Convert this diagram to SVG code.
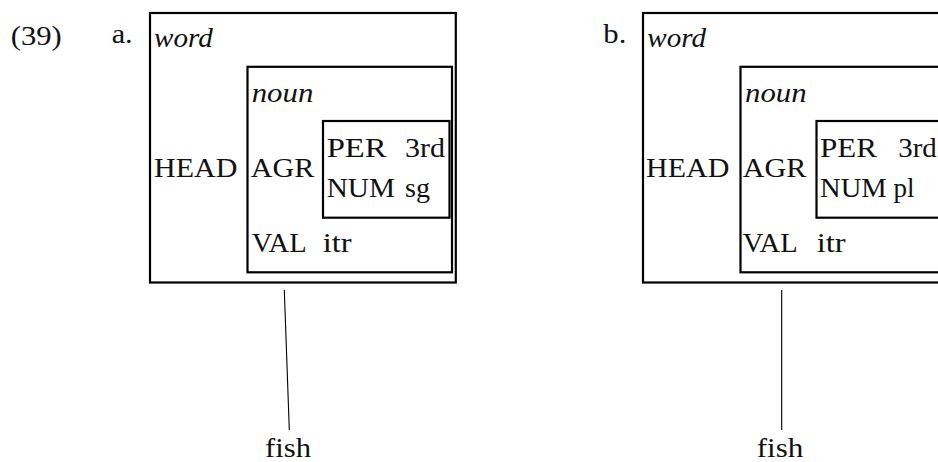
<svg xmlns="http://www.w3.org/2000/svg" width="938" height="462" viewBox="0 0 938 462">
<style>
  .box { fill: none; stroke: #000; stroke-width: 2.2; }
  .t { font-family: "Liberation Serif", "Times New Roman", serif; font-size: 27px; fill: #111; }
  .it { font-style: italic; }
  .edge { stroke: #000; stroke-width: 1.1; fill: none; }
</style>
<rect width="938" height="462" fill="#fff"/>
<g id="labels">
  <text class="t" x="10.7" y="44.5" textLength="51" lengthAdjust="spacingAndGlyphs">(39)</text>
  <text class="t" x="111.7" y="43" textLength="21" lengthAdjust="spacingAndGlyphs">a.</text>
  <text class="t" x="603.3" y="43" textLength="23" lengthAdjust="spacingAndGlyphs">b.</text>
</g>
<g id="word-a">
  <rect class="box" x="150" y="13" width="305.8" height="269.5"/>
  <text class="t it" x="154" y="46.7" textLength="58.7" lengthAdjust="spacingAndGlyphs">word</text>
  <text class="t" x="154" y="176.7" textLength="83.3" lengthAdjust="spacingAndGlyphs">HEAD</text>
</g>
<g id="noun-a">
  <rect class="box" x="247.5" y="66.8" width="204.5" height="205.5"/>
  <text class="t it" x="251.7" y="101.7" textLength="61.6" lengthAdjust="spacingAndGlyphs">noun</text>
  <text class="t" x="250.7" y="176.7" textLength="63.6" lengthAdjust="spacingAndGlyphs">AGR</text>
  <text class="t" x="251.7" y="251.7" textLength="55" lengthAdjust="spacingAndGlyphs">VAL</text>
  <text class="t" x="322.7" y="251.7" textLength="29" lengthAdjust="spacingAndGlyphs">itr</text>
</g>
<g id="agr-a">
  <rect class="box" x="323" y="121" width="126.5" height="96.7"/>
  <text class="t" x="326.7" y="156.7" textLength="60" lengthAdjust="spacingAndGlyphs">PER</text>
  <text class="t" x="405" y="156.7" textLength="40" lengthAdjust="spacingAndGlyphs">3rd</text>
  <text class="t" x="326.7" y="197.3" textLength="68.3" lengthAdjust="spacingAndGlyphs">NUM</text>
  <text class="t" x="405" y="197.3" textLength="25" lengthAdjust="spacingAndGlyphs">sg</text>
</g>
<g id="fish-a">
  <text class="t" x="265" y="456.7" textLength="46" lengthAdjust="spacingAndGlyphs">fish</text>
</g>
<g id="word-b">
  <rect class="box" x="643" y="13" width="305.8" height="269.5"/>
  <text class="t it" x="647.3" y="46.7" textLength="58.7" lengthAdjust="spacingAndGlyphs">word</text>
  <text class="t" x="646" y="176.7" textLength="83.3" lengthAdjust="spacingAndGlyphs">HEAD</text>
</g>
<g id="noun-b">
  <rect class="box" x="740.5" y="66.8" width="204.5" height="205.5"/>
  <text class="t it" x="745" y="101.7" textLength="61.6" lengthAdjust="spacingAndGlyphs">noun</text>
  <text class="t" x="742.7" y="176.7" textLength="63.6" lengthAdjust="spacingAndGlyphs">AGR</text>
  <text class="t" x="742.7" y="251.7" textLength="55" lengthAdjust="spacingAndGlyphs">VAL</text>
  <text class="t" x="816.7" y="251.7" textLength="29" lengthAdjust="spacingAndGlyphs">itr</text>
</g>
<g id="agr-b">
  <rect class="box" x="816.5" y="121" width="126.5" height="96.7"/>
  <text class="t" x="820" y="156.7" textLength="57" lengthAdjust="spacingAndGlyphs">PER</text>
  <text class="t" x="898.3" y="156.7" textLength="38.5" lengthAdjust="spacingAndGlyphs">3rd</text>
  <text class="t" x="820" y="197.3" textLength="66.7" lengthAdjust="spacingAndGlyphs">NUM</text>
  <text class="t" x="893.5" y="197.3" textLength="21" lengthAdjust="spacingAndGlyphs">pl</text>
</g>
<g id="fish-b">
  <text class="t" x="756.7" y="456.7" textLength="46.6" lengthAdjust="spacingAndGlyphs">fish</text>
</g>
<g id="connectors">
  <line class="edge" x1="284.3" y1="290" x2="289.3" y2="430"/>
  <line class="edge" x1="781.7" y1="290" x2="781.7" y2="430"/>
</g>
</svg>
